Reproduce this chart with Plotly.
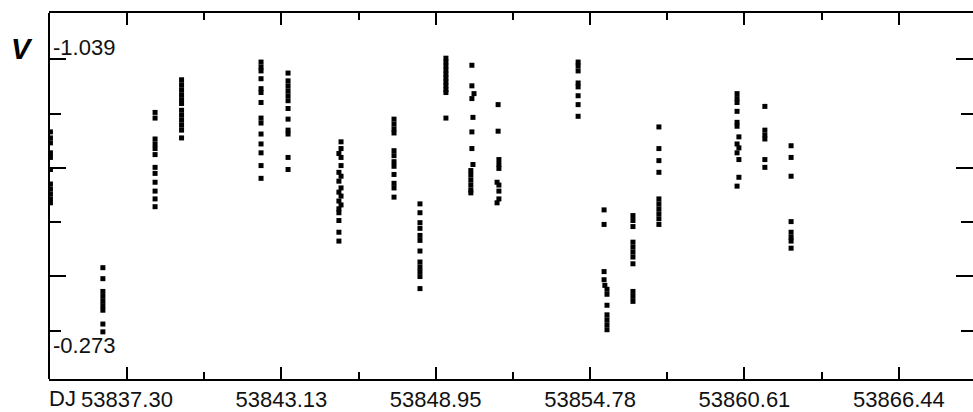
import numpy as np
import plotly.graph_objects as go

# ---- data: V magnitude per observing night (JD - 2400000) ----
jd_01 = 53834.41
v_01 = [-0.834, -0.817, -0.803, -0.775, -0.762, -0.728, -0.687, -0.673, -0.659, -0.645, -0.634]

jd_02 = 53836.39
v_02 = [-0.451, -0.420, -0.384, -0.370, -0.356, -0.343, -0.331, -0.292, -0.270]

jd_03 = 53838.36
v_03 = [-0.889, -0.873, -0.814, -0.800, -0.787, -0.770, -0.734, -0.717, -0.692, -0.667, -0.645, -0.623]

jd_04 = 53839.36
v_04 = [-0.981, -0.967, -0.953, -0.939, -0.925, -0.914, -0.895, -0.881, -0.867, -0.853, -0.839, -0.817]

jd_05 = 53842.36
v_05 = [-1.031, -1.017, -1.006, -0.984, -0.956, -0.945, -0.917, -0.873, -0.859, -0.828, -0.800, -0.775,
        -0.739, -0.703]

jd_06 = 53843.38
v_06 = [-1.000, -0.978, -0.964, -0.950, -0.936, -0.922, -0.900, -0.870, -0.839, -0.828, -0.762, -0.728]

jd_07 = [53845.38, 53845.38, 53845.30, 53845.38, 53845.38, 53845.30, 53845.38, 53845.30, 53845.38,
         53845.30, 53845.38, 53845.30, 53845.38, 53845.30, 53845.30, 53845.30, 53845.30, 53845.30]
v_07 = [-0.806, -0.787, -0.773, -0.762, -0.739, -0.720, -0.709, -0.695, -0.676, -0.664, -0.653, -0.639,
        -0.628, -0.617, -0.606, -0.584, -0.551, -0.526]

jd_08 = 53847.38
v_08 = [-0.870, -0.856, -0.842, -0.831, -0.781, -0.767, -0.750, -0.737, -0.714, -0.689, -0.676, -0.650]

jd_09 = 53848.36
v_09 = [-0.631, -0.606, -0.578, -0.562, -0.542, -0.528, -0.498, -0.467, -0.453, -0.440, -0.426, -0.392]

jd_10 = 53849.34
v_10 = [-1.042, -1.031, -1.020, -1.008, -0.997, -0.986, -0.975, -0.964, -0.953, -0.945, -0.873]

jd_11 = [53850.32, 53850.32, 53850.40, 53850.32, 53850.36, 53850.32, 53850.32, 53850.36, 53850.28,
         53850.28, 53850.28, 53850.28, 53850.28, 53850.28]
v_11 = [-1.022, -0.964, -0.942, -0.928, -0.875, -0.834, -0.787, -0.742, -0.725, -0.712, -0.698, -0.684,
        -0.670, -0.662]

jd_12 = [53851.31, 53851.31, 53851.34, 53851.34, 53851.34, 53851.27, 53851.34, 53851.34, 53851.34, 53851.27]
v_12 = [-0.911, -0.836, -0.756, -0.742, -0.731, -0.692, -0.684, -0.667, -0.645, -0.634]

jd_13 = 53854.33
v_13 = [-1.031, -1.020, -1.006, -0.972, -0.961, -0.936, -0.911, -0.878]

jd_14 = [53855.31, 53855.31, 53855.31, 53855.31, 53855.34, 53855.42, 53855.42, 53855.42, 53855.42,
         53855.42, 53855.42, 53855.42]
v_14 = [-0.614, -0.573, -0.440, -0.417, -0.401, -0.390, -0.376, -0.345, -0.318, -0.304, -0.290, -0.276]

jd_15 = 53856.40
v_15 = [-0.598, -0.584, -0.567, -0.523, -0.509, -0.495, -0.481, -0.462, -0.384, -0.370, -0.356]

jd_16 = 53857.38
v_16 = [-0.848, -0.787, -0.753, -0.720, -0.645, -0.631, -0.617, -0.603, -0.589, -0.573]

jd_17 = [53860.33, 53860.33, 53860.33, 53860.33, 53860.33, 53860.33, 53860.40, 53860.33, 53860.40,
         53860.33, 53860.40, 53860.40, 53860.33]
v_17 = [-0.942, -0.928, -0.917, -0.892, -0.861, -0.850, -0.820, -0.800, -0.789, -0.775, -0.756, -0.706,
        -0.681]

jd_18 = 53861.38
v_18 = [-0.906, -0.839, -0.825, -0.814, -0.756, -0.734]

jd_19 = 53862.37
v_19 = [-0.795, -0.762, -0.709, -0.581, -0.551, -0.537, -0.526, -0.506]

x_major = [53837.30, 53843.13, 53848.95, 53854.78, 53860.61, 53866.44]
x_major_text = ["53837.30", "53843.13", "53848.95", "53854.78", "53860.61", "53866.44"]
x_minor = [53840.215, 53846.04, 53851.865, 53857.695, 53863.525]
y_major = [-1.039, -0.7326, -0.4262]
y_minor = [-0.8858, -0.5794, -0.273]
y_label_top = "-1.039"
y_label_bottom = "-0.273"

nights = [(jd_01, v_01), (jd_02, v_02), (jd_03, v_03), (jd_04, v_04), (jd_05, v_05), (jd_06, v_06),
          (jd_07, v_07), (jd_08, v_08), (jd_09, v_09), (jd_10, v_10), (jd_11, v_11), (jd_12, v_12),
          (jd_13, v_13), (jd_14, v_14), (jd_15, v_15), (jd_16, v_16), (jd_17, v_17), (jd_18, v_18),
          (jd_19, v_19)]

xs, ys = [], []
for jd, v in nights:
    if np.isscalar(jd):
        xs.extend([jd] * len(v))
    else:
        xs.extend(jd)
    ys.extend(v)

FONT = "Liberation Sans, Arial, sans-serif"
TXT = "#111111"

fig = go.Figure()
fig.add_trace(go.Scatter(
    x=xs, y=ys, mode="markers",
    marker=dict(symbol="square", size=5, color="black", line=dict(width=0)),
    hoverinfo="x+y",
))

fig.update_layout(
    width=973, height=412,
    margin=dict(l=49, r=0, t=13, b=27, pad=0),
    paper_bgcolor="white", plot_bgcolor="white",
    showlegend=False,
    font=dict(family=FONT, size=22, color=TXT),
    xaxis=dict(
        range=[53834.356, 53869.237],
        tickmode="array", tickvals=x_major, ticktext=x_major_text,
        ticks="inside", ticklen=12, tickwidth=1.5, tickcolor="black",
        showline=True, linewidth=2, linecolor="black", mirror="ticks",
        showgrid=False, zeroline=False,
        tickfont=dict(family=FONT, size=22, color=TXT),
        minor=dict(tickmode="array", tickvals=x_minor, ticks="inside", ticklen=7,
                   tickwidth=1.5, tickcolor="black", showgrid=False),
    ),
    yaxis=dict(
        range=[-0.137, -1.1694],
        tickmode="array", tickvals=y_major, showticklabels=False,
        ticks="inside", ticklen=17, tickwidth=1.5, tickcolor="black",
        showline=False, mirror="ticks",
        showgrid=False, zeroline=False,
        minor=dict(tickmode="array", tickvals=y_minor, ticks="inside", ticklen=12,
                   tickwidth=1.5, tickcolor="black", showgrid=False),
    ),
    shapes=[dict(type="line", xref="paper", yref="paper", x0=0, x1=0, y0=0, y1=1,
                 line=dict(color="black", width=2))],
    annotations=[
        dict(text=y_label_top, xref="paper", yref="y", x=0, y=y_major[0], xanchor="left",
             yanchor="middle", xshift=2, yshift=12, showarrow=False,
             font=dict(family=FONT, size=22, color=TXT)),
        dict(text=y_label_bottom, xref="paper", yref="y", x=0, y=y_minor[-1], xanchor="left",
             yanchor="middle", xshift=2, yshift=-15, showarrow=False,
             font=dict(family=FONT, size=22, color=TXT)),
        dict(text="<b><i>V</i></b>", xref="paper", yref="y", x=0, y=y_major[0], xanchor="center",
             yanchor="middle", xshift=-27, yshift=10, showarrow=False,
             font=dict(family=FONT, size=29, color="black")),
        dict(text="DJ", xref="paper", yref="paper", x=0, y=0, xanchor="left",
             yanchor="middle", xshift=-2, yshift=-19, showarrow=False,
             font=dict(family=FONT, size=22, color=TXT)),
    ],
)

fig.write_html("out.html")
